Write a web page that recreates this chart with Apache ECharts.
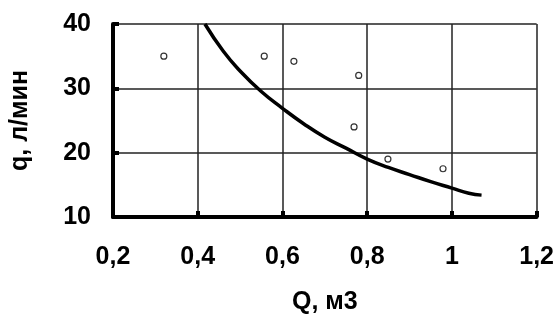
<!DOCTYPE html>
<html>
<head>
<meta charset="utf-8">
<script src="https://cdn.jsdelivr.net/npm/echarts@6/dist/echarts.min.js"></script>
<style>
  html, body { margin: 0; padding: 0; background: #fff; }
  #chart { width: 557px; height: 320px; }
</style>
</head>
<body>
<div id="chart"></div>
<script>
// измеренные точки
const pointsQ = [0.32, 0.557, 0.627, 0.78, 0.769, 0.849, 0.979];
const pointsq = [35, 35, 34.2, 32, 24, 19, 17.5];

// сглаженная кривая
const curveQ = [0.417, 0.46, 0.5, 0.55, 0.6, 0.65, 0.7, 0.75, 0.8, 0.85, 0.9, 0.95, 1.0, 1.04, 1.07];
const curveq = [40, 35.8, 32.7, 29.5, 26.9, 24.5, 22.4, 20.7, 19.0, 17.7, 16.6, 15.5, 14.5, 13.7, 13.4];

const xTicks = [0.2, 0.4, 0.6, 0.8, 1.0, 1.2];
const yTicks = [10, 20, 30, 40];

const chart = echarts.init(document.getElementById('chart'));

const font = 'Liberation Sans, Arial, sans-serif';

chart.setOption({
    animation: false,
    grid: { left: 100, top: 24, right: 19, bottom: 99 },
    xAxis: {
        type: 'value',
        min: xTicks[0], max: xTicks[xTicks.length - 1], interval: 0.2,
        name: 'Q, м3',
        nameLocation: 'middle',
        nameGap: 73,
        nameTextStyle: { fontFamily: font, fontWeight: 'bold', fontSize: 25, color: '#000' },
        axisLine: { lineStyle: { color: '#000', width: 4 } },
        axisTick: { inside: true, length: 6, lineStyle: { color: '#000', width: 4 } },
        axisLabel: {
            margin: 28,
            fontFamily: font, fontWeight: 'bold', fontSize: 25, color: '#000',
            formatter: v => String(+v.toFixed(1)).replace('.', ',')
        },
        splitLine: { show: true, lineStyle: { color: '#222', width: 1.5 } }
    },
    yAxis: {
        type: 'value',
        min: yTicks[0], max: yTicks[yTicks.length - 1], interval: 10,
        name: 'q, л/мин',
        nameLocation: 'middle',
        nameGap: 80,
        nameTextStyle: { fontFamily: font, fontWeight: 'bold', fontSize: 25, color: '#000' },
        axisLine: { show: true, lineStyle: { color: '#000', width: 4 } },
        axisTick: { show: true, inside: true, length: 6, lineStyle: { color: '#000', width: 4 } },
        axisLabel: { margin: 22, fontFamily: font, fontWeight: 'bold', fontSize: 25, color: '#000' },
        splitLine: { show: true, lineStyle: { color: '#222', width: 1.5 } }
    },
    series: [
        {
            type: 'line',
            data: curveQ.map((q, i) => [q, curveq[i]]),
            smooth: true,
            showSymbol: false,
            lineStyle: { color: '#000', width: 3.5 },
            z: 3
        },
        {
            type: 'scatter',
            data: pointsQ.map((q, i) => [q, pointsq[i]]),
            symbol: 'circle',
            symbolSize: 6,
            itemStyle: { color: '#fff', borderColor: '#000', borderWidth: 1.2 },
            z: 4
        }
    ]
});
</script>
</body>
</html>
